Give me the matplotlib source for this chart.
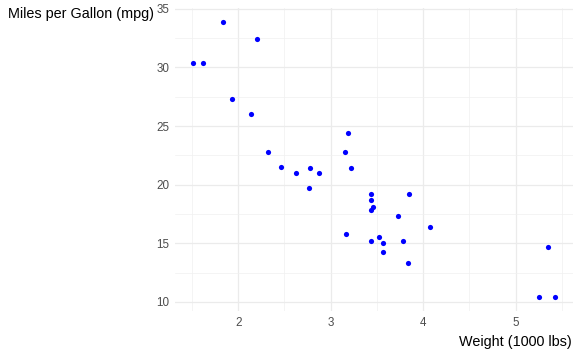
import matplotlib
matplotlib.use("Agg")
import matplotlib.pyplot as plt
from matplotlib.ticker import MultipleLocator

wt = [2.620, 2.875, 2.320, 3.215, 3.440, 3.460, 3.570, 3.190, 3.150, 3.440, 3.440,
      4.070, 3.730, 3.780, 5.250, 5.424, 5.345, 2.200, 1.615, 1.835, 2.465, 3.520,
      3.435, 3.840, 3.845, 1.935, 2.140, 1.513, 3.170, 2.770, 3.570, 2.780]
mpg = [21.0, 21.0, 22.8, 21.4, 18.7, 18.1, 14.3, 24.4, 22.8, 19.2, 17.8,
       16.4, 17.3, 15.2, 10.4, 10.4, 14.7, 32.4, 30.4, 33.9, 21.5, 15.5,
       15.2, 13.3, 19.2, 27.3, 26.0, 30.4, 15.8, 19.7, 15.0, 21.4]
x_ticks = [2, 3, 4, 5]
y_ticks = [10, 15, 20, 25, 30, 35]
x_label = "Weight (1000 lbs)"
y_label = "Miles per Gallon (mpg)"

plt.rcParams['font.family'] = ['Liberation Sans', 'DejaVu Sans']

W, H = 581, 355
fig = plt.figure(figsize=(W / 100, H / 100), dpi=100)
left, right, top, bottom = 175, 573, 8, 311
ax = fig.add_axes([left / W, 1 - bottom / H, (right - left) / W, (bottom - top) / H])

xmin, xmax = min(wt), max(wt)
ymin, ymax = min(mpg), max(mpg)
dx = (xmax - xmin) * 0.05
dy = (ymax - ymin) * 0.05
ax.set_xlim(xmin - dx, xmax + dx)
ax.set_ylim(ymin - dy, ymax + dy)

ax.scatter(wt, mpg, s=14, color='#0000FF', linewidths=0, zorder=3)

ax.set_xticks(x_ticks)
ax.set_yticks(y_ticks)
ax.xaxis.set_minor_locator(MultipleLocator(0.5))
ax.yaxis.set_minor_locator(MultipleLocator(2.5))
ax.grid(True, which='major', color='#EBEBEB', linewidth=0.9, zorder=0)
ax.grid(True, which='minor', color='#F0F0F0', linewidth=0.5, zorder=0)
ax.set_axisbelow(True)
for s in ax.spines.values():
    s.set_visible(False)
ax.tick_params(which='both', length=0)
ax.tick_params(axis='both', labelsize=8.4, labelcolor='#4D4D4D')
ax.tick_params(axis='x', pad=4)
ax.tick_params(axis='y', pad=4)

fig.text(8 / W, 1 - 7 / H, y_label, ha='left', va='top', fontsize=10.4, color='black')
fig.text(572 / W, 1 - 349 / H, x_label, ha='right', va='bottom', fontsize=10.4, color='black')

fig.savefig("out.png", dpi=100)
